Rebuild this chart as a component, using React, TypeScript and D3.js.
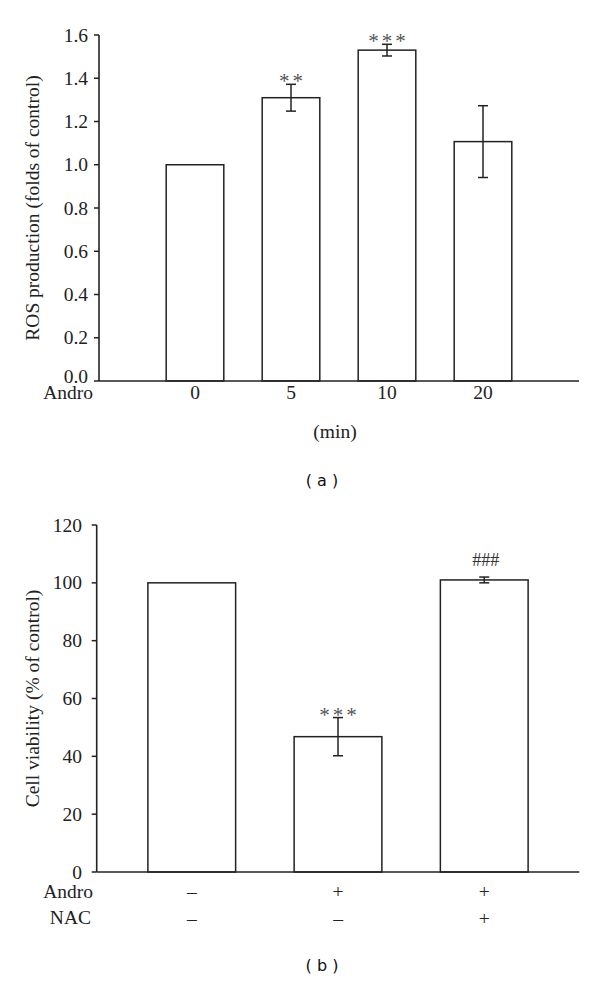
import React from "react";
import * as d3 from "d3";

const timeLabels = ["0", "5", "10", "20"];
const rosMeans = [1.0, 1.31, 1.53, 1.107];
const rosErrors = [0, 0.062, 0.027, 0.166];
const rosSig = ["", "**", "***", ""];
const rosTicks = [0, 0.2, 0.4, 0.6, 0.8, 1.0, 1.2, 1.4, 1.6];

const viabilityMeans = [100, 46.8, 101];
const viabilityErrors = [0, 6.6, 1.0];
const viabilitySig = ["", "***", "###"];
const viabilityTicks = [0, 20, 40, 60, 80, 100, 120];
const androRow = ["\u2013", "+", "+"];
const nacRow = ["\u2013", "\u2013", "+"];

const SERIF = "'Liberation Serif', 'Times New Roman', serif";
const SANS = "'DejaVu Sans', Verdana, sans-serif";
const INK = "#222";
const FS = 19.5;

export default function App() {
  // Panel (a)
  const xA = d3.scaleLinear().domain([-1, 4]).range([99, 579]);
  const yA = d3.scaleLinear().domain([0, 1.6]).range([381, 35]);
  const bwA = xA(0.6) - xA(0);
  const fmtA = d3.format(".1f");

  // Panel (b)
  const xB = d3.scaleLinear().domain([-0.65, 2.65]).range([96.7, 579.3]);
  const yB = d3.scaleLinear().domain([0, 120]).range([872, 525]);
  const bwB = xB(0.6) - xB(0);

  const sigY = (label: string, errTop: number) =>
    label.startsWith("#") ? errTop - 11 : errTop + 4;

  const sigText = (s: string, x: number, y: number, key: string) => {
    const hash = s.startsWith("#");
    return (
      <text
        key={key}
        x={x}
        y={y}
        textAnchor="middle"
        fontFamily={SERIF}
        fontSize={hash ? 18 : 21}
        letterSpacing={hash ? 0 : 3}
        fill={hash ? "#333" : "#555"}
      >
        {s}
      </text>
    );
  };

  return (
    <svg
      width={600}
      height={981}
      style={{ position: "absolute", left: 0, top: 0, background: "#fff" }}
    >
      <rect x={0} y={0} width={600} height={981} fill="#fff" />
      {/* ===== Panel (a) ===== */}
      <g>
        {rosMeans.map((v, i) => (
          <rect
            key={"ba" + i}
            x={xA(i) - bwA / 2}
            y={yA(v)}
            width={bwA}
            height={yA(0) - yA(v)}
            fill="#fff"
            stroke={INK}
            strokeWidth={1.5}
          />
        ))}
        {rosMeans.map((v, i) =>
          rosErrors[i] > 0 ? (
            <g key={"ea" + i} stroke={INK} strokeWidth={1.5}>
              <line x1={xA(i)} x2={xA(i)} y1={yA(v + rosErrors[i])} y2={yA(v - rosErrors[i])} />
              <line x1={xA(i) - 5} x2={xA(i) + 5} y1={yA(v + rosErrors[i])} y2={yA(v + rosErrors[i])} />
              <line x1={xA(i) - 5} x2={xA(i) + 5} y1={yA(v - rosErrors[i])} y2={yA(v - rosErrors[i])} />
            </g>
          ) : null
        )}
        {rosSig.map((s, i) =>
          s ? sigText(s, xA(i) + 1.5, sigY(s, yA(rosMeans[i] + rosErrors[i])), "sa" + i) : null
        )}
        {/* axes */}
        <line x1={xA(-1)} x2={xA(4)} y1={yA(0)} y2={yA(0)} stroke={INK} strokeWidth={1.6} />
        <line x1={xA(-1)} x2={xA(-1)} y1={yA(0)} y2={yA(1.6)} stroke={INK} strokeWidth={1.6} />
        {rosTicks.map((t) => (
          <g key={"ta" + t}>
            <line x1={xA(-1) - 5} x2={xA(-1)} y1={yA(t)} y2={yA(t)} stroke={INK} strokeWidth={1.5} />
            <text
              x={xA(-1) - 11}
              y={yA(t) - (t === 0 ? 5 : 0)}
              textAnchor="end"
              dominantBaseline="central"
              fontFamily={SERIF}
              fontSize={FS}
              fill={INK}
            >
              {fmtA(t)}
            </text>
          </g>
        ))}
        {timeLabels.map((l, i) => (
          <text key={"xa" + i} x={xA(i)} y={399} textAnchor="middle" fontFamily={SERIF} fontSize={FS} fill={INK}>
            {l}
          </text>
        ))}
        <text x={93} y={399} textAnchor="end" fontFamily={SERIF} fontSize={FS} fill={INK}>
          Andro
        </text>
        <text x={335} y={438} textAnchor="middle" fontFamily={SERIF} fontSize={FS} fill={INK}>
          (min)
        </text>
        <text
          transform={`translate(32, ${(yA(0) + yA(1.6)) / 2}) rotate(-90)`}
          textAnchor="middle"
          dominantBaseline="central"
          fontFamily={SERIF}
          fontSize={FS}
          fill={INK}
        >
          ROS production (folds of control)
        </text>
        <text x={322} y={486} textAnchor="middle" fontFamily={SANS} fontSize={16} fill="#111">
          ( a )
        </text>
      </g>

      {/* ===== Panel (b) ===== */}
      <g>
        {viabilityMeans.map((v, i) => (
          <rect
            key={"bb" + i}
            x={xB(i) - bwB / 2}
            y={yB(v)}
            width={bwB}
            height={yB(0) - yB(v)}
            fill="#fff"
            stroke={INK}
            strokeWidth={1.5}
          />
        ))}
        {viabilityMeans.map((v, i) =>
          viabilityErrors[i] > 0 ? (
            <g key={"eb" + i} stroke={INK} strokeWidth={1.5}>
              <line x1={xB(i)} x2={xB(i)} y1={yB(v + viabilityErrors[i])} y2={yB(v - viabilityErrors[i])} />
              <line x1={xB(i) - 5} x2={xB(i) + 5} y1={yB(v + viabilityErrors[i])} y2={yB(v + viabilityErrors[i])} />
              <line x1={xB(i) - 5} x2={xB(i) + 5} y1={yB(v - viabilityErrors[i])} y2={yB(v - viabilityErrors[i])} />
            </g>
          ) : null
        )}
        {viabilitySig.map((s, i) =>
          s ? sigText(s, xB(i) + 1.5, sigY(s, yB(viabilityMeans[i] + viabilityErrors[i])), "sb" + i) : null
        )}
        <line x1={xB(-0.65)} x2={xB(2.65)} y1={yB(0)} y2={yB(0)} stroke={INK} strokeWidth={1.6} />
        <line x1={xB(-0.65)} x2={xB(-0.65)} y1={yB(0)} y2={yB(120)} stroke={INK} strokeWidth={1.6} />
        {viabilityTicks.map((t) => (
          <g key={"tb" + t}>
            <line x1={xB(-0.65) - 5} x2={xB(-0.65)} y1={yB(t)} y2={yB(t)} stroke={INK} strokeWidth={1.5} />
            <text
              x={82}
              y={yB(t)}
              textAnchor="end"
              dominantBaseline="central"
              fontFamily={SERIF}
              fontSize={FS}
              fill={INK}
            >
              {t}
            </text>
          </g>
        ))}
        {androRow.map((l, i) => (
          <text key={"ar" + i} x={xB(i)} y={898} textAnchor="middle" fontFamily={SERIF} fontSize={FS} fill={INK}>
            {l}
          </text>
        ))}
        {nacRow.map((l, i) => (
          <text key={"nr" + i} x={xB(i)} y={925} textAnchor="middle" fontFamily={SERIF} fontSize={FS} fill={INK}>
            {l}
          </text>
        ))}
        <text x={93} y={898} textAnchor="end" fontFamily={SERIF} fontSize={FS} fill={INK}>
          Andro
        </text>
        <text x={91} y={924} textAnchor="end" fontFamily={SERIF} fontSize={FS} fill={INK}>
          NAC
        </text>
        <text
          transform={`translate(32, ${(yB(0) + yB(120)) / 2}) rotate(-90)`}
          textAnchor="middle"
          dominantBaseline="central"
          fontFamily={SERIF}
          fontSize={FS}
          fill={INK}
        >
          Cell viability (% of control)
        </text>
        <text x={322} y={971} textAnchor="middle" fontFamily={SANS} fontSize={16} fill="#111">
          ( b )
        </text>
      </g>
    </svg>
  );
}
